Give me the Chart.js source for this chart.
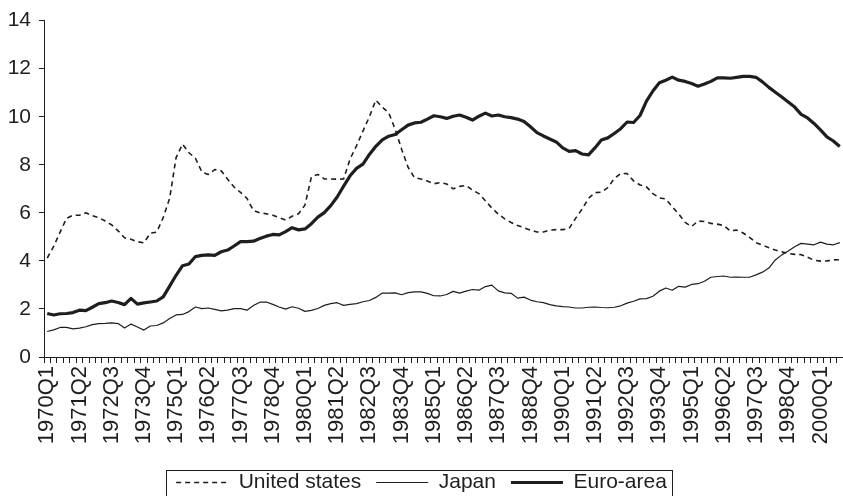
<!DOCTYPE html>
<html>
<head>
<meta charset="utf-8">
<script src="https://cdn.jsdelivr.net/npm/chart.js@4.4.0/dist/chart.umd.min.js"></script>
<style>
  html, body { margin:0; padding:0; background:#fff; }
  #wrap { width:843px; height:496px; position:relative; }
</style>
</head>
<body>
<div id="wrap"><canvas id="chart" width="843" height="496"></canvas></div>
<script>
// quarterly categories 1970Q1 .. 2000Q4
const startYear = 1970, endYear = 2000;
const quarters = [];
for(let y=startYear; y<=endYear; y++){ for(let q=1; q<=4; q++) quarters.push(y+'Q'+q); }

const yTicks = [0,2,4,6,8,10,12,14];
const seriesNames = ['United states','Japan','Euro-area'];

const usValues = [
  4.12,4.6,5.2,5.77,5.9,5.9,6.0,5.88,5.8,5.66,
  5.5,5.25,4.96,4.9,4.8,4.75,5.15,5.2,5.8,6.6,
  8.3,8.86,8.5,8.27,7.7,7.6,7.8,7.75,7.4,7.07,
  6.85,6.6,6.1,6.0,5.96,5.9,5.8,5.7,5.86,5.96,
  6.32,7.5,7.6,7.41,7.41,7.4,7.41,8.24,8.79,9.4,
  10.0,10.69,10.4,10.16,9.48,8.65,7.9,7.46,7.41,7.32,
  7.21,7.26,7.2,7.0,7.1,7.14,6.94,6.8,6.5,6.2,
  5.95,5.75,5.6,5.47,5.38,5.28,5.2,5.2,5.28,5.3,
  5.3,5.35,5.77,6.15,6.6,6.84,6.86,7.05,7.42,7.64,
  7.63,7.33,7.16,7.08,6.8,6.62,6.58,6.25,5.95,5.6,
  5.43,5.66,5.64,5.56,5.53,5.47,5.25,5.28,5.16,4.98,
  4.76,4.66,4.55,4.45,4.38,4.31,4.27,4.26,4.15,4.03,
  3.99,4.0,4.04,4.05
];
const japanValues = [
  1.06,1.13,1.23,1.23,1.17,1.2,1.26,1.35,1.39,1.4,
  1.42,1.39,1.21,1.37,1.25,1.12,1.29,1.31,1.42,1.6,
  1.75,1.77,1.89,2.08,2.01,2.04,1.98,1.92,1.95,2.01,
  2.01,1.95,2.14,2.28,2.29,2.19,2.08,1.99,2.09,2.03,
  1.9,1.94,2.02,2.15,2.22,2.26,2.15,2.19,2.22,2.3,
  2.35,2.48,2.66,2.66,2.67,2.59,2.68,2.71,2.71,2.65,
  2.55,2.54,2.6,2.73,2.66,2.74,2.81,2.78,2.93,2.99,
  2.75,2.67,2.65,2.45,2.49,2.37,2.3,2.26,2.18,2.13,
  2.1,2.08,2.04,2.04,2.07,2.08,2.06,2.05,2.07,2.13,
  2.24,2.32,2.42,2.43,2.53,2.74,2.87,2.78,2.94,2.91,
  3.02,3.05,3.15,3.32,3.35,3.37,3.32,3.33,3.32,3.32,
  3.42,3.53,3.7,4.04,4.25,4.41,4.59,4.73,4.7,4.67,
  4.78,4.7,4.67,4.76
];
const euroValues = [
  1.81,1.75,1.8,1.81,1.85,1.95,1.93,2.07,2.22,2.26,
  2.33,2.27,2.18,2.44,2.2,2.25,2.29,2.33,2.5,2.95,
  3.4,3.8,3.87,4.18,4.23,4.25,4.23,4.38,4.45,4.62,
  4.8,4.8,4.82,4.93,5.03,5.1,5.08,5.22,5.38,5.29,
  5.33,5.55,5.82,6.01,6.3,6.66,7.11,7.54,7.85,8.03,
  8.43,8.77,9.04,9.19,9.26,9.46,9.65,9.74,9.77,9.9,
  10.04,10.0,9.93,10.02,10.07,9.98,9.86,10.02,10.15,10.03,
  10.07,10.0,9.96,9.9,9.8,9.58,9.34,9.2,9.07,8.95,
  8.7,8.56,8.59,8.45,8.41,8.7,9.03,9.12,9.3,9.5,
  9.78,9.76,10.05,10.65,11.07,11.41,11.52,11.65,11.52,11.47,
  11.38,11.27,11.36,11.47,11.62,11.62,11.6,11.64,11.68,11.68,
  11.64,11.45,11.22,11.02,10.82,10.61,10.4,10.1,9.95,9.72,
  9.45,9.16,8.99,8.76
];

const INK = '#1e1e1e';
const FONT = "'Liberation Sans', Arial, sans-serif";

// border round the legend, like the boxed legend of the original
const legendFrame = {
  id:'legendFrame',
  afterDraw(chart){
    const lg = chart.legend; if(!lg || !lg.legendHitBoxes.length) return;
    const hb = lg.legendHitBoxes;
    const left = Math.min(...hb.map(h=>h.left)) - 10;
    const right = Math.max(...hb.map(h=>h.left+h.width)) + 5;
    const mid = hb[0].top + hb[0].height/2;
    const ctx = chart.ctx;
    ctx.save();
    ctx.strokeStyle = INK; ctx.lineWidth = 1;
    ctx.strokeRect(Math.round(left)+0.5, Math.round(mid-13)+0.5, Math.round(right-left), 26);
    ctx.restore();
  }
};

new Chart(document.getElementById('chart'), {
  type:'line',
  data:{
    labels: quarters,
    datasets:[
      { label:seriesNames[0], data:usValues, borderColor:INK, backgroundColor:INK, borderWidth:1.6, borderDash:[5,4] },
      { label:seriesNames[1], data:japanValues, borderColor:INK, backgroundColor:INK, borderWidth:1.2 },
      { label:seriesNames[2], data:euroValues, borderColor:INK, backgroundColor:INK, borderWidth:3.2 }
    ]
  },
  options:{
    responsive:false,
    animation:false,
    events:[],
    layout:{ padding:{ top:17, left:0, right:0, bottom:-7 } },
    elements:{ point:{ radius:0 }, line:{ tension:0, borderJoinStyle:'round' } },
    scales:{
      x:{
        type:'category',
        offset:true,
        grid:{ offset:true, drawOnChartArea:false, drawTicks:true, tickLength:6, color:INK },
        border:{ color:INK, width:1 },
        ticks:{
          autoSkip:false, minRotation:90, maxRotation:90, padding:3, color:INK,
          font:{ family:FONT, size:22 },
          callback(v, i){ return i % 5 === 0 ? this.getLabelForValue(v) : ''; }
        },
        afterFit(s){ s.paddingLeft = 0; s.paddingRight = 0; s.height = 100; }
      },
      y:{
        min:0, max:14,
        grid:{ drawOnChartArea:false, drawTicks:true, tickLength:5, color:INK },
        border:{ color:INK, width:1 },
        afterBuildTicks(s){ s.ticks = yTicks.map(v=>({ value:v })); },
        ticks:{ padding:8, color:INK, font:{ family:FONT, size:21 } },
        afterFit(s){ s.width = 44; }
      }
    },
    plugins:{
      legend:{
        position:'bottom',
        labels:{
          usePointStyle:true, pointStyle:'line', pointStyleWidth:52,
          padding:15, color:INK, font:{ family:FONT, size:21 },
          generateLabels(chart){
            const items = Chart.defaults.plugins.legend.labels.generateLabels(chart);
            return items.map(it=>{
              const ds = chart.data.datasets[it.datasetIndex];
              return Object.assign(it, {
                lineDash: ds.borderDash || [],
                lineWidth: ds.borderWidth,
                strokeStyle: INK,
                fillStyle: INK
              });
            });
          }
        }
      },
      tooltip:{ enabled:false }
    }
  },
  plugins:[legendFrame]
});
</script>
</body>
</html>
